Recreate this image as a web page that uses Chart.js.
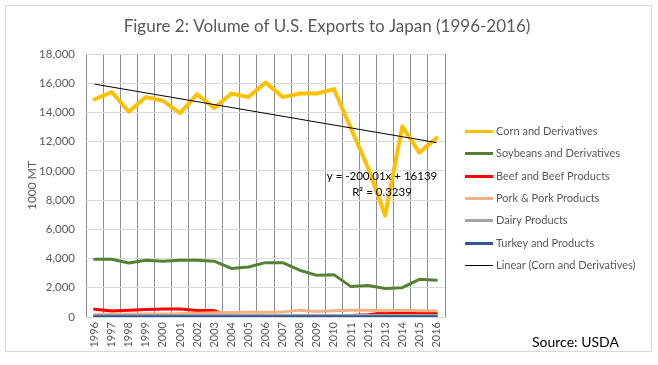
<!DOCTYPE html>
<html>
<head>
<meta charset="utf-8">
<script src="https://cdn.jsdelivr.net/npm/chart.js@4/dist/chart.umd.min.js"></script>
<style>
  html, body { margin: 0; padding: 0; background: #fff; }
  #wrap { width: 658px; height: 365px; position: relative; }
</style>
</head>
<body>
<div id="wrap"><canvas id="chart"></canvas></div>
<script>
// Volumen de exportaciones de EE.UU. a Japon, 1000 MT
const years = ['1996', '1997', '1998', '1999', '2000', '2001', '2002', '2003', '2004', '2005', '2006',
  '2007', '2008', '2009', '2010', '2011', '2012', '2013', '2014', '2015', '2016'];

const corn = [14900, 15400, 14050, 15050, 14800, 13950, 15250, 14300, 15300, 15050, 16050,
  15050, 15300, 15300, 15600, 12900, 10200, 6950, 13050, 11250, 12250];
const soybeans = [3950, 3950, 3700, 3880, 3820, 3880, 3880, 3820, 3320, 3420, 3720,
  3720, 3200, 2850, 2900, 2080, 2150, 1950, 2010, 2580, 2520];
const beef = [530, 410, 460, 520, 540, 540, 440, 440, 10, 20, 50,
  70, 80, 80, 90, 110, 150, 290, 320, 260, 240];
const pork = [170, 180, 190, 200, 210, 230, 260, 290, 310, 320, 330,
  340, 470, 380, 430, 470, 470, 430, 470, 420, 420];
const dairy = [100, 100, 100, 100, 100, 100, 100, 100, 100, 100, 100,
  100, 110, 100, 100, 110, 110, 100, 110, 100, 100];
const turkey = [20, 20, 20, 20, 20, 20, 20, 20, 20, 20, 20,
  20, 20, 20, 20, 20, 20, 20, 20, 20, 20];
// Linea de tendencia: y = -200.01x + 16139 (extremos x=1 y x=21)
const trend = [15939, null, null, null, null, null, null, null, null, null, null,
  null, null, null, null, null, null, null, null, null, 11939];

const yTicks = [0, 2000, 4000, 6000, 8000, 10000, 12000, 14000, 16000, 18000];

const TITLE = 'Figure 2: Volume of U.S. Exports to Japan (1996-2016)';
const FONT = 'Lato, "Open Sans", sans-serif';
const GREY_TXT = '#595959';

function line(label, data, color, width, order) {
  return {
    label, data, order,
    borderColor: color, backgroundColor: color,
    borderWidth: width, pointRadius: 0, tension: 0,
    borderCapStyle: 'round', borderJoinStyle: 'round',
  };
}

const datasets = [
  line('Corn and Derivatives', corn, '#FFC000', 4, 6),
  line('Soybeans and Derivatives', soybeans, '#548235', 3, 5),
  line('Beef and Beef Products', beef, '#FF0000', 3, 4),
  line('Pork & Pork Products', pork, '#F4B183', 3, 3),
  line('Dairy Products', dairy, '#A5A5A5', 3, 2),
  line('Turkey and Products', turkey, '#2F5597', 3, 1),
  Object.assign(line('Linear (Corn and Derivatives)', trend, '#000000', 1, 0), { spanGaps: true, borderCapStyle: 'butt' }),
];

// Titulo, leyenda, ecuacion, fuente y marco dibujados a mano
const extras = {
  id: 'extras',
  afterDraw(chart) {
    const ctx = chart.ctx;
    ctx.save();
    ctx.strokeStyle = '#d9d9d9';
    ctx.lineWidth = 1;
    ctx.strokeRect(5.5, 5.5, 646, 346);

    ctx.fillStyle = GREY_TXT;
    ctx.font = '17px ' + FONT;
    ctx.textAlign = 'center';
    ctx.textBaseline = 'alphabetic';
    ctx.fillText(TITLE, 327, 32);

    ctx.font = '11px ' + FONT;
    ctx.textBaseline = 'middle';
    chart.data.datasets.forEach((ds, i) => {
      const y = Math.round(130.7 + i * 22.4) + 0.5;
      ctx.strokeStyle = ds.borderColor;
      ctx.lineWidth = ds.borderWidth === 1 ? 1 : 3;
      ctx.beginPath();
      ctx.moveTo(465, y);
      ctx.lineTo(493, y);
      ctx.stroke();
      ctx.fillStyle = GREY_TXT;
      ctx.textAlign = 'left';
      ctx.fillText(ds.label, 496, y);
    });

    ctx.fillStyle = '#000';
    ctx.font = '11.5px ' + FONT;
    ctx.textAlign = 'center';
    ctx.fillText('y = -200.01x + 16139', 382, 176);
    ctx.fillText('R\u00B2 = 0.3239', 382, 192);

    ctx.font = '14px ' + FONT;
    ctx.textAlign = 'left';
    ctx.fillText('Source: USDA', 532, 342);
    ctx.restore();
  },
};

new Chart(document.getElementById('chart'), {
  type: 'line',
  data: { labels: years, datasets },
  plugins: [extras],
  options: {
    responsive: true,
    maintainAspectRatio: false,
    animation: false,
    layout: { padding: { left: 0, right: 213, top: 54, bottom: 0 } },
    plugins: {
      legend: { display: false },
      tooltip: { enabled: false },
      title: { display: false },
    },
    scales: {
      x: {
        type: 'category',
        offset: true,
        grid: { offset: true, color: '#8c8c8c', drawTicks: false },
        border: { color: '#d9d9d9' },
        ticks: {
          color: GREY_TXT, font: { family: FONT, size: 11 },
          minRotation: 90, maxRotation: 90, padding: 5, autoSkip: false,
        },
        afterFit(scale) { scale.height = 48; },
      },
      y: {
        min: 0, max: 18000,
        afterBuildTicks(scale) { scale.ticks = yTicks.map(v => ({ value: v })); },
        grid: { color: '#d9d9d9', drawTicks: false },
        border: { display: false },
        ticks: {
          color: GREY_TXT, font: { family: FONT, size: 11.5 }, padding: 11,
          callback: v => Number(v).toLocaleString('en-US'),
        },
        title: {
          display: true, text: '1000 MT', color: GREY_TXT,
          font: { family: FONT, size: 12 }, padding: { top: 25, bottom: 0 },
        },
        afterFit(scale) { scale.width = 86; },
      },
    },
  },
});
</script>
</body>
</html>
